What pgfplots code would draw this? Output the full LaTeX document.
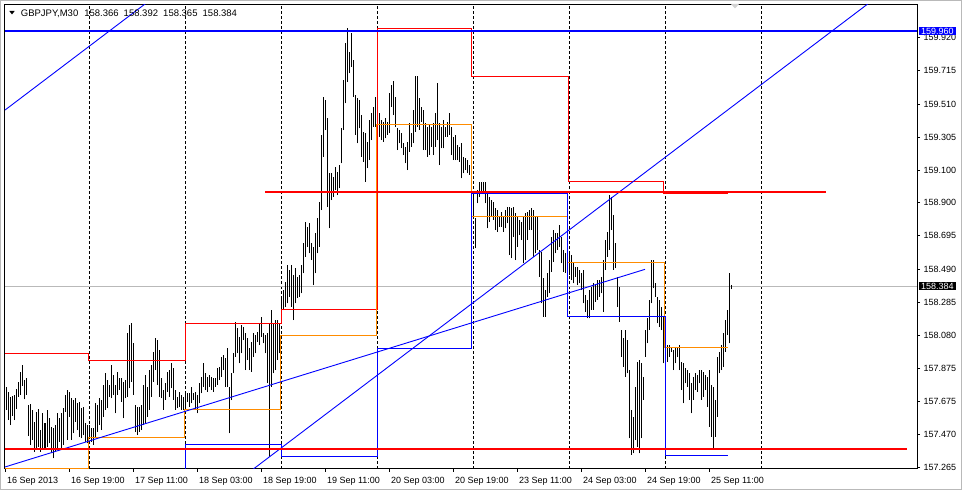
\documentclass[border=0pt]{standalone}
\usepackage{pgfplots}
\usepackage{pgfplotstable}
\pgfplotsset{compat=1.18}
\usepackage{fontspec}
\setmainfont{Liberation Sans}
\definecolor{mtred}{RGB}{255,0,0}
\definecolor{mtblue}{RGB}{0,0,255}
\definecolor{mtorange}{RGB}{255,140,0}
\pgfplotstableread{
h lo hi
3 157.685 157.928
3.5 157.619 157.759
4 157.557 157.732
4.5 157.526 157.697
5 157.582 157.706
5.5 157.557 157.712
6 157.623 157.747
6.5 157.701 157.794
7 157.712 157.854
7.5 157.767 157.897
8 157.685 157.804
8.5 157.712 157.815
9 157.458 157.650
9.5 157.403 157.654
10 157.434 157.619
10.5 157.362 157.547
11 157.372 157.609
11.5 157.392 157.623
12 157.362 157.495
12.5 157.372 157.598
13 157.372 157.537
13.5 157.392 157.619
14 157.413 157.568
14.5 157.351 157.516
15 157.320 157.506
15.5 157.362 157.526
16 157.372 157.598
16.5 157.423 157.568
17 157.372 157.598
17.5 157.403 157.629
18 157.609 157.712
18.5 157.434 157.743
19 157.578 157.732
19.5 157.434 157.691
20 157.475 157.681
20.5 157.547 157.691
21 157.495 157.660
21.5 157.454 157.671
22 157.444 157.629
22.5 157.464 157.640
23 157.423 157.537
23.5 157.413 157.526
24 157.444 157.526
24.5 157.423 157.506
25 157.403 157.506
25.5 157.454 157.660
26 157.485 157.650
26.5 157.526 157.691
27 157.495 157.681
27.5 157.578 157.773
28 157.619 157.846
28.5 157.629 157.804
29 157.701 157.773
29.5 157.691 157.897
30 157.712 157.835
30.5 157.598 157.773
31 157.712 157.856
31.5 157.743 157.815
32 157.671 157.815
32.5 157.568 157.794
33 157.691 157.804
33.5 157.701 158.093
34 157.753 158.144
34.5 157.794 158.155
35 157.712 158.031
35.5 157.485 157.650
36 157.464 157.640
36.5 157.485 157.640
37 157.495 157.650
37.5 157.526 157.773
38 157.537 157.835
38.5 157.578 157.763
39 157.619 157.866
39.5 157.701 157.897
40 157.794 157.980
40.5 157.866 158.062
41 157.773 158.052
41.5 157.701 157.990
42 157.691 157.815
42.5 157.619 157.743
43 157.681 157.784
43.5 157.732 157.856
44 157.701 157.866
44.5 157.753 157.907
45 157.681 157.877
45.5 157.619 157.743
46 157.629 157.701
46.5 157.640 157.732
47 157.619 157.712
47.5 157.619 157.701
48 157.640 157.732
48.5 157.671 157.722
49 157.639 157.721
49.5 157.660 157.763
50 157.680 157.726
50.5 157.619 157.732
51 157.598 157.711
51.5 157.660 157.783
52 157.721 157.825
52.5 157.763 157.907
53 157.742 157.845
53.5 157.732 157.825
54 157.763 157.835
54.5 157.742 157.825
55 157.732 157.814
55.5 157.763 157.814
56 157.773 157.876
56.5 157.804 157.886
57 157.825 157.948
57.5 157.866 157.958
58 157.763 157.938
58.5 157.763 158.000
59 157.474 157.763
59.5 157.680 157.845
60 157.845 157.969
60.5 157.948 158.164
61 157.969 158.123
61.5 157.907 158.072
62 157.969 158.144
62.5 158.051 158.133
63 157.866 158.092
63.5 157.927 158.061
64 157.866 158.000
64.5 157.855 158.041
65 157.948 158.092
65.5 157.969 158.082
66 158.041 158.102
66.5 158.020 158.154
67 158.072 158.195
67.5 158.030 158.092
68 157.969 158.082
68.5 157.783 158.092
69 157.330 158.154
69.5 157.763 158.236
70 157.845 158.154
70.5 157.866 158.175
71 157.927 158.175
71.5 157.969 158.154
72 158.154 158.319
72.5 158.236 158.360
73 158.257 158.411
73.5 158.278 158.514
74 158.319 158.484
74.5 158.257 158.514
75 158.175 158.453
75.5 158.278 158.494
76 158.308 158.442
76.5 158.319 158.453
77 158.339 158.514
77.5 158.463 158.648
78 158.566 158.782
78.5 158.628 158.751
79 158.586 158.772
79.5 158.545 158.648
80 158.391 158.628
80.5 158.463 158.710
81 158.586 158.803
81.5 158.628 158.906
82 158.854 159.318
82.5 159.184 159.554
83 159.348 159.534
83.5 158.875 159.421
84 158.741 159.081
84.5 158.916 159.081
85 158.936 159.060
85.5 158.977 159.122
86 158.947 159.091
86.5 158.988 159.132
87 159.142 159.359
87.5 159.348 159.657
88 159.513 159.884
88.5 159.647 159.976
89 159.698 159.832
89.5 159.740 159.946
90 159.554 159.781
90.5 159.318 159.565
91 159.266 159.544
91.5 159.359 159.534
92 159.184 159.441
92.5 159.153 159.338
93 159.029 159.328
93.5 159.111 159.276
94 159.163 159.410
94.5 159.286 159.451
95 159.369 159.492
95.5 159.369 159.554
96 159.421 159.534
96.5 159.307 159.451
97 159.287 159.410
97.5 159.276 159.400
98 159.297 159.421
98.5 159.318 159.400
99 159.328 159.575
99.5 159.493 159.627
100 159.441 159.653
100.5 159.369 159.554
101 159.225 159.359
101.5 159.266 159.349
102 159.235 159.328
102.5 159.194 159.266
103 159.143 159.246
103.5 159.101 159.276
104 159.215 159.390
104.5 159.246 159.328
105 159.266 159.472
105.5 159.338 159.682
106 159.369 159.682
106.5 159.349 159.544
107 159.400 159.493
107.5 159.225 159.472
108 159.225 159.390
108.5 159.184 159.369
109 159.194 159.379
109.5 159.246 159.369
110 159.194 159.390
110.5 159.246 159.451
111 159.287 159.637
111.5 159.132 159.390
112 159.235 159.369
112.5 159.235 159.410
113 159.307 159.369
113.5 159.307 159.400
114 159.318 159.451
114.5 159.194 159.369
115 159.163 159.307
115.5 159.163 159.318
116 159.163 159.256
116.5 159.153 159.246
117 159.050 159.266
117.5 159.081 159.184
118 159.101 159.174
118.5 159.081 159.163
119 159.071 159.132
119.5 158.957 159.153
120 158.813 158.957
120.5 158.617 158.803
121 158.895 158.978
121.5 158.937 159.029
122 158.968 159.029
122.5 158.968 159.029
123 158.895 159.029
123.5 158.741 158.957
124 158.782 158.937
124.5 158.813 158.916
125 158.793 158.906
125.5 158.731 158.865
126 158.720 158.854
126.5 158.751 158.813
127 158.751 158.844
127.5 158.720 158.813
128 158.741 158.854
128.5 158.772 158.875
129 158.576 158.875
129.5 158.556 158.865
130 158.690 158.875
130.5 158.545 158.834
131 158.628 158.813
131.5 158.700 158.793
132 158.669 158.782
132.5 158.525 158.813
133 158.545 158.834
133.5 158.669 158.844
134 158.731 158.854
134.5 158.731 158.865
135 158.566 158.854
135.5 158.587 158.813
136 158.607 158.813
136.5 158.442 158.607
137 158.278 158.597
137.5 158.195 158.432
138 158.195 158.360
138.5 158.319 158.463
139 158.339 158.545
139.5 158.473 158.690
140 158.535 158.731
140.5 158.587 158.710
141 158.608 158.711
141.5 158.628 158.762
142 158.525 158.690
142.5 158.474 158.608
143 158.464 158.587
143.5 158.402 158.608
144 158.453 158.597
144.5 158.422 158.577
145 158.402 158.525
145.5 158.443 158.505
146 158.391 158.505
146.5 158.402 158.484
147 158.360 158.464
147.5 158.278 158.484
148 158.226 158.329
148.5 158.185 158.299
149 158.185 158.360
149.5 158.237 158.381
150 158.237 158.402
150.5 158.288 158.391
151 158.299 158.422
151.5 158.319 158.422
152 158.340 158.443
152.5 158.226 158.546
153 158.484 158.669
153.5 158.566 158.721
154 158.608 158.947
154.5 158.731 158.937
155 158.484 158.824
155.5 158.494 158.649
156 158.257 158.443
156.5 158.165 158.381
157 157.948 158.113
157.5 157.887 158.062
158 157.825 158.113
158.5 157.845 158.051
159 157.444 157.866
159.5 157.341 157.619
160 157.351 157.578
160.5 157.433 157.763
161 157.392 157.917
161.5 157.351 157.928
162 157.444 157.907
162.5 157.681 157.825
163 157.948 158.113
163.5 158.031 158.185
164 158.113 158.299
164.5 158.278 158.546
165 158.371 158.546
165.5 158.319 158.402
166 158.154 158.319
166.5 158.134 158.299
167 158.113 158.257
167.5 157.907 158.196
168 157.928 158.154
168.5 157.917 158.020
169 157.948 158.020
169.5 157.979 158.010
170 157.866 157.990
170.5 157.907 158.010
171 157.948 158.010
171.5 157.866 158.020
172 157.742 157.917
172.5 157.660 157.907
173 157.784 157.876
173.5 157.763 157.866
174 157.681 157.845
174.5 157.598 157.784
175 157.681 157.825
175.5 157.742 157.845
176 157.732 157.835
176.5 157.784 157.866
177 157.681 157.866
177.5 157.701 157.856
178 157.742 157.835
178.5 157.639 157.825
179 157.516 157.866
179.5 157.454 157.773
180 157.372 157.763
180.5 157.454 157.681
181 157.578 157.948
181.5 157.845 157.979
182 157.866 158.020
182.5 157.887 158.093
183 157.979 158.175
183.5 158.082 158.237
184 158.031 158.464
184.5 158.365 158.392
}\bars
\begin{document}
\begin{tikzpicture}
\fill[white] (0pt,0pt) rectangle (962pt,490pt);
\begin{axis}[
  at={(5pt,21pt)}, anchor=south west,
  scale only axis, width=912pt, height=464pt,
  xmin=3, xmax=231, ymin=157.2545, ymax=160.1211,
  axis line style={black, line width=1pt},
  xtick={3,19,35,51,67,83,99,115,131,147,163,179},
  xticklabels={16 Sep 2013,16 Sep 19:00,17 Sep 11:00,18 Sep 03:00,18 Sep 19:00,19 Sep 11:00,20 Sep 03:00,20 Sep 19:00,23 Sep 11:00,24 Sep 03:00,24 Sep 19:00,25 Sep 11:00},
  ytick={157.265,157.470,157.675,157.875,158.080,158.285,158.490,158.695,158.900,159.100,159.305,159.510,159.715,159.920},
  yticklabels={157.265,157.470,157.675,157.875,158.080,158.285,158.490,158.695,158.900,159.100,159.305,159.510,159.715,159.920},
  xtick pos=left, ytick pos=right, yticklabel pos=right,
  tick align=outside, major tick length=3pt,
  tick style={black, line width=0.8pt},
  tick label style={font=\fontsize{9pt}{10pt}\selectfont, text=black},
  xticklabel style={anchor=north west, xshift=-1.5pt, yshift=-1.5pt},
  yticklabel style={anchor=west},
  extra x ticks={24,48,72,96,120,144,168,192},
  extra x tick labels={},
  extra x tick style={grid=major, major tick length=0pt, major grid style={black, line width=0.8pt, dash pattern=on 3pt off 2pt}},
]
% current price line
\addplot[forget plot, gray!55, line width=1pt] coordinates {(3,158.384) (231,158.384)};
% price bars (high-low)
\addplot[forget plot, draw=none, mark=none, error bars/.cd, y dir=plus, y explicit, error mark=none,
  error bar style={draw=black, line width=1pt, solid}]
  table[x=h, y=lo, y error expr=\thisrow{hi}-\thisrow{lo}] {\bars};
% previous day high / close / low steps
\addplot[forget plot, const plot, mtred, line width=1pt] coordinates {(3,157.965) (23.9,157.926) (48,158.155) (72,158.241) (96,159.976) (119.6,159.681) (143.9,159.032) (167.6,158.958) (183.75,158.958)};
\addplot[forget plot, const plot, mtorange, line width=1pt] coordinates {(3,157.258) (23.75,157.449) (47.75,157.622) (71.9,158.082) (95.9,159.384) (119.6,158.815) (143.6,158.532) (167.9,158.006) (183.75,158.006)};
\addplot[forget plot, const plot, mtblue, line width=1pt] coordinates {(47.9,157.20) (48,157.407) (72,157.331) (96.1,158.000) (119.7,158.958) (143.6,158.198) (168,157.339) (183.75,157.339)};
% trend lines
\addplot[forget plot, mtblue, line width=0.9pt] coordinates {(3,159.472) (40.5,160.174)};
\addplot[forget plot, mtblue, line width=0.9pt] coordinates {(64.75,157.248) (219.25,160.138)};
\addplot[forget plot, mtblue, line width=0.9pt] coordinates {(3,157.267) (163,158.488)};
% horizontal levels
\addplot[forget plot, mtred, line width=2pt] coordinates {(68,158.966) (208.25,158.966)};
\addplot[forget plot, mtred, line width=2pt] coordinates {(3,157.380) (228.5,157.380)};
\addplot[forget plot, mtblue, line width=2pt] coordinates {(3,159.960) (231,159.960)};
\coordinate (lvl) at (axis cs:231,159.960);
\coordinate (cur) at (axis cs:231,158.384);
\end{axis}
\node[fill=mtblue, text=white, anchor=west, inner xsep=2.5pt, inner ysep=1pt, font=\fontsize{9pt}{10pt}\selectfont] at ([xshift=1.5pt]lvl) {159.960};
\node[fill=black, text=white, anchor=west, inner xsep=2.5pt, inner ysep=1pt, font=\fontsize{9pt}{10pt}\selectfont] at ([xshift=1.5pt]cur) {158.384};
\fill[black] (9.3pt,479pt) -- (14.7pt,479pt) -- (12pt,475.6pt) -- cycle;
\node[anchor=base west, inner sep=0pt, font=\fontsize{9.5pt}{10pt}\selectfont] at (20.7pt,473.6pt) {GBPJPY,M30\hspace{6pt}158.366\hspace{2.5pt} 158.392\hspace{2.5pt} 158.365\hspace{2.5pt} 158.384};
\fill[gray!35] (731pt,486pt) -- (739pt,486pt) -- (735pt,481.5pt) -- cycle;
\draw[gray!55, line width=1pt] (0.5pt,0.5pt) rectangle (961.5pt,489.5pt);
\end{tikzpicture}
\end{document}
